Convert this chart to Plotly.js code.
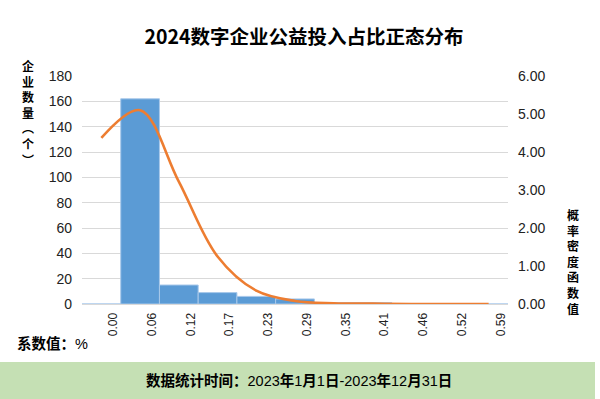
<!DOCTYPE html>
<html>
<head>
<meta charset="utf-8">
<script src="https://cdn.plot.ly/plotly-3.0.1.min.js"></script>
<style>
html,body{margin:0;padding:0;background:#fff;}
#chart{width:600px;height:399px;}
</style>
</head>
<body>
<div id="chart"></div>
<script>
// ---- data ----
const binLabels = ['0.00','0.06','0.12','0.17','0.23','0.29','0.35','0.41','0.46','0.52','0.59'];
const counts    = [0, 162, 15, 9, 6, 4, 1, 1, 0, 0, 0];
const density   = [4.37, 5.1, 3.22, 1.25, 0.35, 0.08, 0.02, 0.01, 0, 0, 0];

const titleText  = '2024数字企业公益投入占比正态分布';
const leftTitle  = ['企', '业', '数', '量', '︵', '个', '︶'];
const rightTitle = ['概', '率', '密', '度', '函', '数', '值'];
const unitText   = '<b>系数值：</b>%';
const footerText = '<b>数据统计时间：</b>2023<b>年</b>1<b>月</b>1<b>日</b>-2023<b>年</b>12<b>月</b>31<b>日</b>';

// ---- layout helpers (pixel -> paper) ----
const W = 600, H = 399;
const M = {l: 82, r: 92, t: 76, b: 95};
const PW = W - M.l - M.r, PH = H - M.t - M.b;
const px = x => (x - M.l) / PW;
const py = y => (H - M.b - y) / PH;

const CJK = 'Noto Sans CJK SC';
const LAT = 'Liberation Sans, Noto Sans CJK SC';

const bars = {
  type: 'bar', x: binLabels, y: counts, yaxis: 'y',
  marker: {color: '#5b9bd5', line: {color: '#a8c8ea', width: 1}},
  hoverinfo: 'skip', showlegend: false
};
const curve = {
  type: 'scatter', mode: 'lines', x: binLabels, y: density, yaxis: 'y2',
  line: {color: '#ed7d31', width: 2.6, shape: 'spline', smoothing: 1},
  hoverinfo: 'skip', showlegend: false
};

const annotations = [
  {
    xref: 'paper', yref: 'paper', x: px(28.5), y: py(113),
    xanchor: 'center', yanchor: 'middle', showarrow: false, align: 'center',
    text: '<b>' + leftTitle.join('<br>') + '</b>',
    font: {family: CJK, size: 12, color: '#000'}
  },
  {
    xref: 'paper', yref: 'paper', x: px(572.5), y: py(261),
    xanchor: 'center', yanchor: 'middle', showarrow: false, align: 'center',
    text: '<b>' + rightTitle.join('<br>') + '</b>',
    font: {family: CJK, size: 12, color: '#000'}
  },
  {
    xref: 'paper', yref: 'paper', x: px(15), y: py(343),
    xanchor: 'left', yanchor: 'middle', showarrow: false,
    text: unitText, font: {family: LAT, size: 14.5, color: '#000'}
  },
  {
    xref: 'paper', yref: 'paper', x: px(299), y: py(380),
    xanchor: 'center', yanchor: 'middle', showarrow: false,
    text: footerText, font: {family: LAT, size: 14.5, color: '#000'}
  }
];

const layout = {
  width: W, height: H, margin: M,
  paper_bgcolor: '#fff', plot_bgcolor: '#fff',
  bargap: 0,
  title: {
    text: '<b>' + titleText + '</b>', xref: 'paper', x: px(304), xanchor: 'center',
    yref: 'container', y: 1 - 37 / H, yanchor: 'middle',
    font: {family: CJK, size: 19.5, color: '#000'}
  },
  xaxis: {
    type: 'category', tickangle: -90, showgrid: false, zeroline: false,
    showline: true, linecolor: '#d9d9d9', linewidth: 1,
    ticks: '', ticklabelshift: 12, ticklabelstandoff: 3,
    tickfont: {family: LAT, size: 12, color: '#222'}
  },
  yaxis: {
    range: [0, 180], dtick: 20, showgrid: true, gridcolor: '#d9d9d9', gridwidth: 1,
    zeroline: false, showline: false, ticks: '', ticklabelstandoff: 9,
    tickfont: {family: LAT, size: 14, color: '#222'}
  },
  yaxis2: {
    overlaying: 'y', side: 'right', range: [0, 6], dtick: 1, tickformat: '.2f',
    showgrid: false, zeroline: false, showline: false, ticks: '', ticklabelstandoff: 9,
    tickfont: {family: LAT, size: 14, color: '#222'}
  },
  shapes: [{
    type: 'rect', xref: 'paper', yref: 'paper', layer: 'below',
    x0: px(0), x1: px(595), y0: py(362), y1: py(399),
    fillcolor: '#c5e0b4', line: {width: 0}
  }],
  annotations: annotations
};

Plotly.newPlot('chart', [bars, curve], layout, {displayModeBar: false, staticPlot: true});
</script>
</body>
</html>
